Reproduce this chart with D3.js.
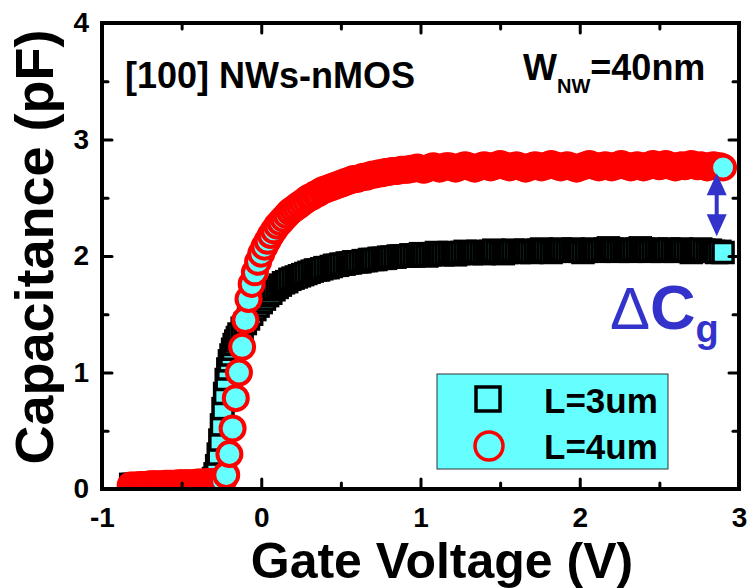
<!DOCTYPE html>
<html lang="en">
  <head>
    <meta charset="UTF-8" />
    <title>Gate capacitance of [100] NWs-nMOS</title>
    <style>
      body {
        margin: 0;
        background: #fff;
        overflow: hidden;
      }
      svg {
        display: block;
        font-family: "Liberation Sans", Arial, sans-serif;
      }
      .tick line {
        stroke: #000;
        stroke-width: 3px;
        stroke-linecap: round;
      }
      .tick text {
        font-size: 28px;
        font-weight: bold;
        fill: #000;
      }
    </style>
  </head>
  <body>
    <svg width="748" height="588"></svg>

    <script src="https://d3js.org/d3.v7.min.js"></script>
    <script>
      // axis ticks
      const xMajor = [-1, 0, 1, 2, 3];
      const xMinor = [-0.5, 0.5, 1.5, 2.5];
      const yMajor = [0, 1, 2, 3, 4];
      const yMinor = [0.5, 1.5, 2.5, 3.5];

      // L = 3um (black squares), finer steps across the turn-on
      const volt3 = [
        -0.82, -0.8, -0.78, -0.76, -0.74, -0.72,
        -0.7, -0.68, -0.66, -0.64, -0.62, -0.6, -0.58, -0.56, -0.54, -0.52,
        -0.5, -0.48, -0.46, -0.44, -0.42, -0.4, -0.38, -0.36, -0.34,
        -0.33, -0.32, -0.31, -0.3, -0.29, -0.28, -0.27, -0.26, -0.25, -0.24,
        -0.23, -0.22, -0.21, -0.2, -0.19, -0.18, -0.17, -0.16, -0.15, -0.14,
        -0.12, -0.1, -0.08, -0.06, -0.04, -0.02, 0, 0.02, 0.04, 0.06,
        0.08, 0.1, 0.12, 0.14, 0.16, 0.18, 0.2, 0.22, 0.24, 0.26,
        0.28, 0.3, 0.32, 0.34, 0.36, 0.38, 0.4, 0.42, 0.44, 0.46,
        0.48, 0.5, 0.52, 0.54, 0.56, 0.58, 0.6, 0.62, 0.64, 0.66,
        0.68, 0.7, 0.72, 0.74, 0.76, 0.78, 0.8, 0.82, 0.84, 0.86,
        0.88, 0.9,
        0.92, 0.94, 0.96, 0.98, 1.0, 1.02, 1.04, 1.06, 1.08, 1.1,
        1.12, 1.14, 1.16, 1.18, 1.2, 1.22, 1.24, 1.26, 1.28, 1.3,
        1.32, 1.34, 1.36, 1.38, 1.4, 1.42, 1.44, 1.46, 1.48, 1.5,
        1.52, 1.54, 1.56, 1.58, 1.6, 1.62, 1.64, 1.66, 1.68, 1.7,
        1.72, 1.74, 1.76, 1.78, 1.8, 1.82, 1.84, 1.86, 1.88, 1.9,
        1.92, 1.94, 1.96, 1.98, 2.0, 2.02, 2.04, 2.06, 2.08, 2.1,
        2.12, 2.14, 2.16, 2.18, 2.2, 2.22, 2.24, 2.26, 2.28, 2.3,
        2.32, 2.34, 2.36, 2.38, 2.4, 2.42, 2.44, 2.46, 2.48, 2.5,
        2.52, 2.54, 2.56, 2.58, 2.6, 2.62, 2.64, 2.66, 2.68, 2.7,
        2.72, 2.74, 2.76, 2.78, 2.8, 2.82, 2.84, 2.86, 2.88, 2.9,
      ];
      const cap3 = [
        0.04, 0.04, 0.04, 0.04, 0.04, 0.04,
        0.04, 0.04, 0.04, 0.04, 0.04, 0.05, 0.05, 0.05, 0.05, 0.05,
        0.05, 0.05, 0.05, 0.05, 0.05, 0.05, 0.05, 0.05, 0.05,
        0.05, 0.06, 0.07, 0.09, 0.13, 0.2, 0.3, 0.42, 0.55, 0.69,
        0.82, 0.94, 1.03, 1.1, 1.15, 1.2, 1.24, 1.27, 1.3, 1.33,
        1.38, 1.42, 1.46, 1.5, 1.54, 1.57, 1.6, 1.63, 1.66, 1.68,
        1.71, 1.73, 1.75, 1.77, 1.78, 1.8, 1.81, 1.82, 1.83, 1.84,
        1.85, 1.86, 1.87, 1.88, 1.88, 1.89, 1.9, 1.9, 1.91, 1.92,
        1.92, 1.93, 1.93, 1.94, 1.94, 1.95, 1.95, 1.95, 1.96, 1.96,
        1.97, 1.97, 1.97, 1.98, 1.98, 1.98, 1.99, 1.99, 1.99, 2.0,
        2.0, 2.0,
        2.0, 2.01, 2.0, 2.01, 2.02, 2.01, 2.0, 2.01, 2.02, 2.03,
        2.02, 2.01, 2.02, 2.03, 2.02, 2.01, 2.02, 2.03, 2.04, 2.03,
        2.02, 2.03, 2.04, 2.03, 2.02, 2.03, 2.04, 2.05, 2.04, 2.03,
        2.02, 2.03, 2.04, 2.05, 2.04, 2.03, 2.04, 2.05, 2.04, 2.03,
        2.04, 2.05, 2.06, 2.05, 2.04, 2.03, 2.04, 2.05, 2.06, 2.05,
        2.04, 2.05, 2.06, 2.05, 2.04, 2.03, 2.04, 2.05, 2.06, 2.05,
        2.04, 2.05, 2.06, 2.07, 2.06, 2.05, 2.04, 2.05, 2.06, 2.05,
        2.04, 2.05, 2.06, 2.07, 2.06, 2.05, 2.04, 2.05, 2.06, 2.05,
        2.04, 2.05, 2.06, 2.05, 2.04, 2.05, 2.06, 2.05, 2.04, 2.03,
        2.04, 2.05, 2.06, 2.05, 2.04, 2.05, 2.04, 2.03, 2.04, 2.03,
      ];

      // L = 4um (red circles)
      const volt4 = [
        -0.82, -0.8, -0.78, -0.76, -0.74, -0.72, -0.7, -0.68, -0.66, -0.64,
        -0.62, -0.6, -0.58, -0.56, -0.54, -0.52, -0.5, -0.48, -0.46, -0.44,
        -0.42, -0.4, -0.38, -0.36, -0.34, -0.32, -0.3, -0.28, -0.26,
        -0.24, -0.22, -0.2, -0.18, -0.16, -0.14,
        -0.12, -0.1, -0.08, -0.06, -0.04, -0.02, 0, 0.02, 0.04, 0.06,
        0.08, 0.1, 0.12, 0.14, 0.16, 0.18, 0.2, 0.22, 0.24, 0.26,
        0.28, 0.3, 0.32, 0.34, 0.36, 0.38, 0.4, 0.42, 0.44, 0.46,
        0.48, 0.5, 0.52, 0.54, 0.56, 0.58, 0.6, 0.62, 0.64, 0.66,
        0.68, 0.7, 0.72, 0.74, 0.76, 0.78, 0.8, 0.82, 0.84, 0.86,
        0.88, 0.9,
        0.92, 0.94, 0.96, 0.98, 1.0, 1.02, 1.04, 1.06, 1.08, 1.1,
        1.12, 1.14, 1.16, 1.18, 1.2, 1.22, 1.24, 1.26, 1.28, 1.3,
        1.32, 1.34, 1.36, 1.38, 1.4, 1.42, 1.44, 1.46, 1.48, 1.5,
        1.52, 1.54, 1.56, 1.58, 1.6, 1.62, 1.64, 1.66, 1.68, 1.7,
        1.72, 1.74, 1.76, 1.78, 1.8, 1.82, 1.84, 1.86, 1.88, 1.9,
        1.92, 1.94, 1.96, 1.98, 2.0, 2.02, 2.04, 2.06, 2.08, 2.1,
        2.12, 2.14, 2.16, 2.18, 2.2, 2.22, 2.24, 2.26, 2.28, 2.3,
        2.32, 2.34, 2.36, 2.38, 2.4, 2.42, 2.44, 2.46, 2.48, 2.5,
        2.52, 2.54, 2.56, 2.58, 2.6, 2.62, 2.64, 2.66, 2.68, 2.7,
        2.72, 2.74, 2.76, 2.78, 2.8, 2.82, 2.84, 2.86, 2.88, 2.9,
      ];
      const cap4 = [
        0.03, 0.03, 0.03, 0.035, 0.035, 0.035, 0.04, 0.04, 0.04, 0.04,
        0.04, 0.045, 0.045, 0.045, 0.045, 0.05, 0.05, 0.05, 0.05, 0.05,
        0.05, 0.055, 0.055, 0.055, 0.06, 0.06, 0.06, 0.06, 0.065,
        0.07, 0.12, 0.3, 0.52, 0.78, 1.0,
        1.22, 1.45, 1.63, 1.76, 1.86, 1.95, 2.02, 2.08, 2.13, 2.18,
        2.22, 2.26, 2.29, 2.32, 2.35, 2.38, 2.4, 2.42, 2.44, 2.46,
        2.48, 2.5, 2.51, 2.53, 2.54, 2.56, 2.57, 2.58, 2.59, 2.6,
        2.61, 2.62, 2.63, 2.64, 2.65, 2.66, 2.66, 2.67, 2.68, 2.68,
        2.69, 2.7, 2.7, 2.71, 2.71, 2.72, 2.72, 2.73, 2.73, 2.73,
        2.74, 2.74,
        2.74, 2.75, 2.75, 2.76, 2.75, 2.74, 2.75, 2.76, 2.77, 2.76,
        2.75, 2.76, 2.77, 2.77, 2.76, 2.75, 2.76, 2.77, 2.78, 2.77,
        2.76, 2.75, 2.76, 2.77, 2.78, 2.77, 2.76, 2.77, 2.78, 2.79,
        2.78, 2.77, 2.76, 2.77, 2.78, 2.77, 2.76, 2.75, 2.76, 2.77,
        2.78, 2.77, 2.76, 2.77, 2.78, 2.79, 2.78, 2.77, 2.76, 2.77,
        2.78, 2.77, 2.76, 2.75, 2.76, 2.77, 2.78, 2.79, 2.78, 2.77,
        2.76, 2.77, 2.78, 2.77, 2.76, 2.77, 2.78, 2.79, 2.78, 2.77,
        2.76, 2.77, 2.78, 2.77, 2.76, 2.77, 2.78, 2.79, 2.78, 2.77,
        2.78, 2.79, 2.78, 2.77, 2.76, 2.77, 2.78, 2.77, 2.78, 2.79,
        2.78, 2.77, 2.78, 2.77, 2.76, 2.77, 2.78, 2.77, 2.77, 2.76,
      ];

      const cyan = "#66ffff";
      const blue = "#3333cc";

      const svg = d3.select("svg");

      // plot area
      const plotLeft = 102,
        plotRight = 739,
        plotTop = 23,
        plotBottom = 489;

      const x = d3.scaleLinear().domain([-1, 3]).range([plotLeft, plotRight]);
      const y = d3.scaleLinear().domain([0, 4]).range([plotBottom, plotTop]);

      svg
        .append("clipPath")
        .attr("id", "plot-clip")
        .append("rect")
        .attr("x", plotLeft)
        .attr("y", plotTop)
        .attr("width", plotRight - plotLeft)
        .attr("height", plotBottom - plotTop);

      const plot = svg.append("g").attr("clip-path", "url(#plot-clip)");

      // squares first, circles drawn over them
      const sq = 20;
      plot
        .append("g")
        .selectAll("rect")
        .data(d3.zip(volt3, cap3))
        .join("rect")
        .attr("x", (d) => x(d[0]) - sq / 2)
        .attr("y", (d) => y(d[1]) - sq / 2)
        .attr("width", sq)
        .attr("height", sq)
        .attr("fill", cyan)
        .attr("stroke", "#000")
        .attr("stroke-width", 3.5);

      plot
        .append("g")
        .selectAll("circle")
        .data(d3.zip(volt4, cap4))
        .join("circle")
        .attr("cx", (d) => x(d[0]))
        .attr("cy", (d) => y(d[1]))
        .attr("r", 12)
        .attr("fill", cyan)
        .attr("stroke", "#ff0000")
        .attr("stroke-width", 4);

      // axes: ticks point inward, minor ticks at the halves
      const label = (d) => String(d); // plain hyphen for "-1"
      function styleAxis(g) {
        g.select(".domain").remove();
      }
      svg
        .append("g")
        .attr("transform", `translate(0,${plotBottom})`)
        .call(d3.axisBottom(x).tickValues(xMajor).tickSize(-10).tickPadding(18).tickFormat(label))
        .call(styleAxis);
      svg
        .append("g")
        .attr("transform", `translate(0,${plotBottom})`)
        .call(d3.axisBottom(x).tickValues(xMinor).tickSize(-6).tickFormat(""))
        .call(styleAxis);
      svg
        .append("g")
        .attr("transform", `translate(0,${plotTop})`)
        .call(d3.axisTop(x).tickValues(xMajor).tickSize(-10).tickFormat(""))
        .call(styleAxis);
      svg
        .append("g")
        .attr("transform", `translate(0,${plotTop})`)
        .call(d3.axisTop(x).tickValues(xMinor).tickSize(-6).tickFormat(""))
        .call(styleAxis);
      svg
        .append("g")
        .attr("transform", `translate(${plotLeft},0)`)
        .call(d3.axisLeft(y).tickValues(yMajor).tickSize(-10).tickPadding(13).tickFormat(label))
        .call(styleAxis);
      svg
        .append("g")
        .attr("transform", `translate(${plotLeft},0)`)
        .call(d3.axisLeft(y).tickValues(yMinor).tickSize(-6).tickFormat(""))
        .call(styleAxis);
      svg
        .append("g")
        .attr("transform", `translate(${plotRight},0)`)
        .call(d3.axisRight(y).tickValues(yMajor).tickSize(-10).tickFormat(""))
        .call(styleAxis);
      svg
        .append("g")
        .attr("transform", `translate(${plotRight},0)`)
        .call(d3.axisRight(y).tickValues(yMinor).tickSize(-6).tickFormat(""))
        .call(styleAxis);

      // frame
      svg
        .append("rect")
        .attr("x", plotLeft)
        .attr("y", plotTop)
        .attr("width", plotRight - plotLeft)
        .attr("height", plotBottom - plotTop)
        .attr("fill", "none")
        .attr("stroke", "#000")
        .attr("stroke-width", 4);

      // axis titles
      svg
        .append("text")
        .attr("x", 442)
        .attr("y", 578)
        .attr("text-anchor", "middle")
        .attr("font-size", 50)
        .attr("font-weight", "bold")
        .text("Gate Voltage (V)");

      svg
        .append("text")
        .attr("transform", "translate(53,247) rotate(-90)")
        .attr("text-anchor", "middle")
        .attr("font-size", 54)
        .attr("font-weight", "bold")
        .text("Capacitance (pF)");

      // labels inside the plot
      svg
        .append("text")
        .attr("x", 125)
        .attr("y", 88)
        .attr("font-size", 36)
        .attr("font-weight", "bold")
        .text("[100] NWs-nMOS");

      const wnw = svg
        .append("text")
        .attr("x", 523)
        .attr("y", 80)
        .attr("font-size", 36)
        .attr("font-weight", "bold");
      wnw.append("tspan").text("W");
      wnw.append("tspan").attr("font-size", 20).attr("dy", 13).text("NW");
      wnw.append("tspan").attr("dy", -13).text("=40nm");

      // delta C_g annotation
      const ax = x(2.86);
      const yTop = y(2.71);
      const yBot = y(2.17);
      const head = 22,
        half = 10;
      svg
        .append("line")
        .attr("x1", ax)
        .attr("x2", ax)
        .attr("y1", yTop + head - 2)
        .attr("y2", yBot - head + 2)
        .attr("stroke", blue)
        .attr("stroke-width", 4);
      svg
        .append("path")
        .attr("d", `M${ax},${yTop}L${ax - half},${yTop + head}L${ax + half},${yTop + head}Z`)
        .attr("fill", blue);
      svg
        .append("path")
        .attr("d", `M${ax},${yBot}L${ax - half},${yBot - head}L${ax + half},${yBot - head}Z`)
        .attr("fill", blue);

      const dcg = svg.append("text").attr("x", 610).attr("y", 329).attr("fill", blue);
      dcg.append("tspan").attr("font-size", 60).text("\u0394");
      dcg.append("tspan").attr("font-size", 63).attr("font-weight", "bold").text("C");
      dcg.append("tspan").attr("font-size", 38).attr("font-weight", "bold").attr("dy", 13).text("g");

      // legend
      const legend = svg.append("g");
      legend
        .append("rect")
        .attr("x", 437)
        .attr("y", 374)
        .attr("width", 231)
        .attr("height", 95)
        .attr("fill", cyan)
        .attr("stroke", "#333")
        .attr("stroke-width", 1);
      legend
        .append("rect")
        .attr("x", 488 - 12)
        .attr("y", 399 - 12)
        .attr("width", 24)
        .attr("height", 24)
        .attr("fill", "none")
        .attr("stroke", "#000")
        .attr("stroke-width", 3.5);
      legend
        .append("circle")
        .attr("cx", 489)
        .attr("cy", 446)
        .attr("r", 14)
        .attr("fill", "none")
        .attr("stroke", "#ff0000")
        .attr("stroke-width", 3.5);
      legend
        .selectAll("text")
        .data(["L=3um", "L=4um"])
        .join("text")
        .attr("x", 544)
        .attr("y", (d, i) => 413 + i * 46)
        .attr("font-size", 35)
        .attr("font-weight", "bold")
        .text((d) => d);
    </script>
  </body>
</html>
